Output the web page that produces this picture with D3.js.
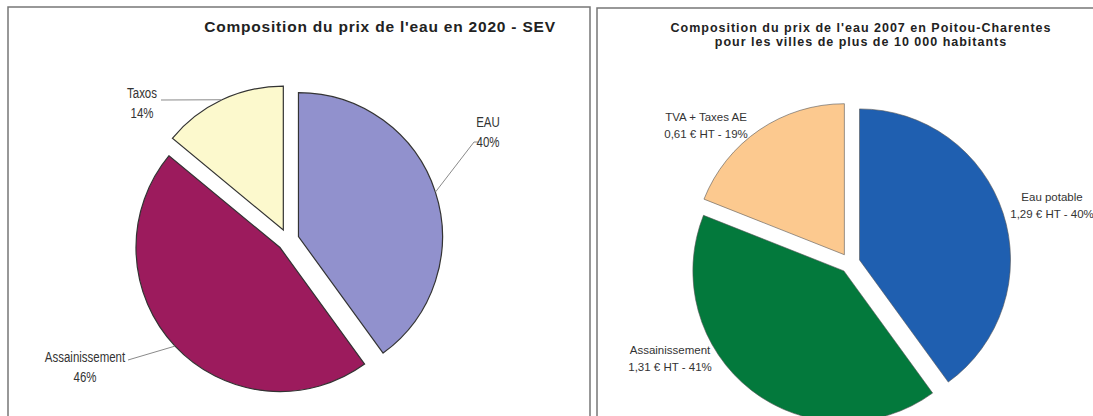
<!DOCTYPE html>
<html>
<head>
<meta charset="utf-8">
<script src="https://cdn.jsdelivr.net/npm/d3@7"></script>
<style>
  body { margin: 0; background: #fff; }
</style>
</head>
<body>
<div class="charts"></div>
<script>
// left chart: SEV 2020
var sevTitle = ["Composition du prix de l'eau en 2020 - SEV"];
var sevCategories = ['EAU', 'Assainissement', 'Taxos'];
var sevValues = [40, 46, 14];

// right chart: Poitou-Charentes 2007
var pcTitle = ["Composition du prix de l'eau 2007 en Poitou-Charentes",
               'pour les villes de plus de 10 000 habitants'];
var pcCategories = ['Eau potable', 'Assainissement', 'TVA + Taxes AE'];
var pcPrices = ['1,29', '1,31', '0,61'];
var pcValues = [40, 41, 19];

var width = 1093,
    height = 416;

var svg = d3.select('div.charts')
    .append('svg')
        .attr('width', width)
        .attr('height', height)
        .style('display', 'block');

// panel frames
svg.append('path')
    .attr('d', 'M8,416V7H590V416')
    .attr('fill', 'none')
    .attr('stroke', '#777')
    .attr('stroke-width', 1.5);
svg.append('path')
    .attr('d', 'M597,416V8H1093')
    .attr('fill', 'none')
    .attr('stroke', '#777')
    .attr('stroke-width', 1.5);

function drawPie(cfg) {
    var pie = d3.pie().sort(null).value((d) => d.value);
    var arcs = pie(cfg.data);
    var arc = d3.arc().innerRadius(0).outerRadius(cfg.radius);
    var mid = (d) => (d.startAngle + d.endAngle) / 2;

    var g = svg.append('g')
        .attr('transform', 'translate(' + cfg.cx + ',' + cfg.cy + ')');

    var slices = g.selectAll('g.slice')
        .data(arcs)
        .enter()
        .append('g')
            .attr('class', 'slice')
            .attr('transform', (d) => 'translate(' + (Math.sin(mid(d)) * cfg.explode) + ',' + (-Math.cos(mid(d)) * cfg.explode) + ')');

    slices.append('path')
        .attr('d', arc)
        .attr('fill', (d, i) => cfg.colors[i])
        .attr('stroke', cfg.stroke)
        .attr('stroke-width', cfg.strokeWidth);

    // labels, placed relative to the pie centre
    arcs.forEach((d, i) => {
        var lab = cfg.labels[i];
        if (lab.leader) {
            var a = mid(d),
                ox = Math.sin(a) * cfg.explode,
                oy = -Math.cos(a) * cfg.explode;
            var pts = [[ox + Math.sin(a) * cfg.radius, oy - Math.cos(a) * cfg.radius]].concat(lab.leader);
            g.append('path')
                .attr('d', d3.line()(pts))
                .attr('fill', 'none')
                .attr('stroke', '#8a8a8a')
                .attr('stroke-width', 1);
        }
        var t = g.append('text')
            .attr('transform', 'translate(' + lab.x + ',' + lab.y + ') scale(' + cfg.labelSqueeze + ',1)')
            .attr('text-anchor', lab.anchor || 'middle')
            .style('font-family', cfg.labelFont)
            .style('font-size', cfg.labelSize + 'px')
            .style('fill', '#333');
        cfg.labelText(d.data, i).forEach((line, j) => {
            t.append('tspan')
                .attr('x', 0)
                .attr('dy', j === 0 ? 0 : cfg.lineHeight)
                .text(line);
        });
    });

    svg.append('g')
        .selectAll('text')
        .data(cfg.title)
        .enter()
        .append('text')
            .attr('x', cfg.titleX)
            .attr('y', (d, i) => cfg.titleY + i * cfg.titleLine)
            .attr('text-anchor', 'middle')
            .style('font-family', 'Arial, "Liberation Sans", sans-serif')
            .style('font-weight', 'bold')
            .style('font-size', cfg.titleSize + 'px')
            .style('letter-spacing', cfg.titleSpacing + 'px')
            .style('fill', '#222')
            .text((d) => d);
}

drawPie({
    data: sevCategories.map((c, i) => ({name: c, value: sevValues[i]})),
    cx: 288, cy: 240, radius: 144, explode: 11,
    colors: ['#9191cd', '#9c1b5d', '#fcf9cd'],
    stroke: '#333', strokeWidth: 1.2,
    title: sevTitle, titleX: 380, titleY: 32, titleLine: 0, titleSize: 15.5, titleSpacing: 0.8,
    labelFont: 'Arial, "Liberation Sans", sans-serif',
    labelSize: 14, labelSqueeze: 0.82, lineHeight: 20,
    labelText: (d) => [d.name, d.value + '%'],
    labels: [
        {x: 200, y: -113, leader: [[186, -98], [191, -98]]},
        {x: -203, y: 122, leader: [[-160, 120]]},
        {x: -146, y: -142, leader: [[-127, -140]]}
    ]
});

drawPie({
    data: pcCategories.map((c, i) => ({name: c, value: pcValues[i], price: pcPrices[i]})),
    cx: 850, cy: 263, radius: 151, explode: 10,
    colors: ['#1f5fb0', '#03793c', '#fcc98f'],
    stroke: '#555', strokeWidth: 0.6,
    title: pcTitle, titleX: 861, titleY: 32, titleLine: 14, titleSize: 12.5, titleSpacing: 1.0,
    labelFont: 'Arial, "Liberation Sans", sans-serif',
    labelSize: 11.5, labelSqueeze: 1, lineHeight: 17,
    labelText: (d) => [d.name, d.price + ' € HT - ' + d.value + '%'],
    labels: [
        {x: 202, y: -62},
        {x: -180, y: 91},
        {x: -144, y: -142}
    ]
});
</script>
</body>
</html>
